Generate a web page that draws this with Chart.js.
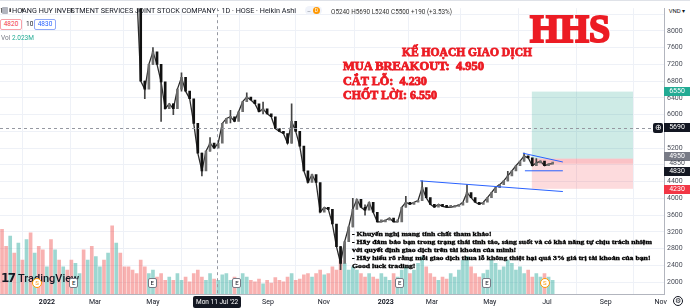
<!DOCTYPE html>
<html lang="vi">
<head>
<meta charset="utf-8">
<title>HHS - Heikin Ashi</title>
<script src="https://cdn.jsdelivr.net/npm/chart.js@4.4.1/dist/chart.umd.min.js"></script>
<style>
  html, body { margin: 0; padding: 0; background: #fff; }
  #wrap { position: relative; width: 690px; height: 308px; overflow: hidden; font-family: Roboto, "Liberation Sans", sans-serif; color: #131722; border-top: 1px solid #dfe2e8; box-sizing: border-box; }
  #c { position: absolute; left: 0; top: 0; }
  .ov { position: absolute; white-space: nowrap; line-height: 1; }
  .fit { transform-origin: 0 0; }
  .slab { font-family: "Liberation Serif", serif; font-weight: bold; }
  .plan { color: #ec1c24; font-size: 11.5px; -webkit-text-stroke: 0.8px #ec1c24; }
  .note { font-size: 7px; line-height: 8px; color: #000; -webkit-text-stroke: 0.35px #000; }
  .px { position: absolute; left: 664px; width: 26px; height: 9px; font-size: 7px; line-height: 9px; text-align: center; color: #fff; }
  .ev { position: absolute; top: 277px; width: 7px; height: 8px; border: 1px solid #787b86; border-radius: 2px; font-size: 6px; line-height: 8px; text-align: center; background: #fff; color: #131722; }
  .dv { position: absolute; top: 277px; width: 8px; height: 8px; border: 1px solid #ff9800; border-radius: 50%; font-size: 6px; line-height: 8px; text-align: center; background: #fff; color: #ff9800; }
  .box { border-radius: 2px; font-size: 6.5px; line-height: 9px; height: 9px; text-align: center; background: #fff; }
</style>
</head>
<body>
<div id="wrap">
  <canvas id="c" width="690" height="308"></canvas>

  <div class="ov" style="left:2px;top:6px;width:6px;height:7px;background:#b2b5be;border-radius:1px"></div>
  <div class="ov fit" id="title" style="left:12px;top:6px;font-size:8px;">HOANG HUY INVESTMENT SERVICES JOINT STOCK COMPANY · 1D · HOSE · Heikin Ashi</div>
  <div class="ov" style="left:305px;top:5px;width:17px;height:9px;background:#f0f3fa;border-radius:5px;font-size:6px;line-height:9px;color:#787b86;padding-left:2px;box-sizing:border-box">–<span style="display:inline-block;margin-left:2px;width:7px;height:7px;border-radius:50%;background:#ff9800;color:#fff;font-size:5px;line-height:7px;text-align:center;vertical-align:1px">D</span></div>
  <div class="ov fit" id="ohlc" style="left:331px;top:8px;font-size:6.5px;color:#333">O5240 H5690 L5240 C5500 +190 (+3.53%)</div>

  <div class="ov box" style="left:0px;top:18px;width:20px;border:1px solid #f7a1a8;color:#f23645">4820</div>
  <div class="ov" style="left:26px;top:20px;font-size:6.5px">10</div>
  <div class="ov box" style="left:34px;top:18px;width:20px;border:1px solid #8fa8f7;color:#2962ff">4830</div>
  <div class="ov" style="left:1px;top:34px;font-size:6.5px;color:#787b86">Vol <span style="color:#22ab94">2.023M</span></div>

  <div class="ov fit slab" id="hhs" style="left:530px;top:7.5px;font-size:40px;color:#ec1c24;-webkit-text-stroke:2.2px #ec1c24">HHS</div>
  <div class="ov fit slab plan" id="p0" style="left:402px;top:45.5px">KẾ HOẠCH GIAO DỊCH</div>
  <div class="ov fit slab plan" id="p1" style="left:343px;top:60.4px">MUA BREAKOUT:&nbsp; 4.950</div>
  <div class="ov fit slab plan" id="p2" style="left:343px;top:74.7px">CẮT LỖ:&nbsp; 4.230</div>
  <div class="ov fit slab plan" id="p3" style="left:343px;top:89.4px">CHỐT LỜI: 6.550</div>

  <div class="ov fit slab note" id="note" style="left:352px;top:229px">- Khuyến nghị mang tính chất tham khảo!<br>- Hãy đảm bảo bạn trong trạng thái tỉnh táo, sáng suốt và có khả năng tự chịu trách nhiệm<br>với quyết định giao dịch trên tài khoản của mình!<br>- Hãy hiểu rõ rằng mỗi giao dịch thua lỗ không thiệt hại quá 3% giá trị tài khoản của bạn!<br>Good luck trading!</div>

  <div class="ov" style="left:665px;top:4px;width:24px;height:12px;background:#fff;font-size:6px;line-height:12px;color:#131722;text-align:center">VND ▾</div>

  <div class="ov" style="left:1px;top:271px;font-family:'DejaVu Sans',sans-serif;font-weight:bold;font-size:12px;letter-spacing:-1.5px;color:#131722">17</div>
  <div class="ov" style="left:18px;top:272px;font-size:11px;font-weight:500;color:#131722">TradingView</div>

  <div class="ov" id="xlab" style="top:295px;height:12px;padding:0 3px;background:#131722;color:#fff;font-size:6.5px;line-height:12px;border-radius:2px">Mon 11 Jul '22</div>
  <div class="ov" style="left:673px;top:295px;width:10px;height:10px;border:1px solid #131722;border-radius:50%;box-sizing:border-box;font-size:7px;line-height:8px;text-align:center">⚙</div>
  <div class="ov" id="cross" style="left:653px;width:10px;height:10px;background:#131722;border-radius:2px;color:#fff;font-size:8px;line-height:10px;text-align:center">⊕</div>
</div>

<script>
// price trace, one Heikin Ashi close every 3 sessions (left part sits above the visible range)
var closes = [
  9300, 9100, 9250, 9050, 9400, 9150, 9500, 9350, 9600, 9450,
  9200, 9700, 9550, 9800, 9650, 9900, 9700, 9300, 9500, 9650,
  9400, 9800, 9550, 9900, 10100, 9800, 10200, 9950, 10100, 9800,
  9650, 9400, 9200, 9000,
  6800, 6610, 7200, 7500, 7200, 6780,
  6140, 6260, 6140, 6610, 6890, 6560, 6380, 5790, 5080, 4660,
  5130, 5320, 5200, 5320, 5790, 5910, 5950, 5840, 6070, 6310,
  6420, 6350, 6260, 6070, 6140, 6020, 5950, 5670, 5600, 5550,
  5320, 5840, 5600, 5250, 4660, 4380, 4570, 4380, 3670, 3790,
  3740, 3390, 2850, 2450, 2970, 3320, 3740, 3980, 3790, 3720,
  3910, 3670, 3440, 3440, 3480, 3530, 3440, 3440, 3790, 3910,
  3860, 3910, 3950, 4260, 4020, 3860, 3790, 3860, 3810, 3790,
  3790, 3810, 3840, 3910, 4140, 4020, 3910, 3860, 3910, 4020,
  4140, 4260, 4330, 4420, 4540, 4660, 4780, 4890, 5010, 4970,
  4780, 4850, 4890, 4780, 4820, 4830
];
// volume in millions of shares
var volumes = [
  9.5, 7, 8.5, 6, 7.5, 5, 8, 9, 6, 7,
  6.5, 4, 8, 6.5, 5, 4, 3.5, 5, 4.5, 3,
  6.5, 5, 7, 5.5, 4, 5, 6, 10, 7.5, 6,
  4, 4, 3.5, 3, 5, 4, 3, 3.5, 2.5, 3,
  2, 2.5, 2, 3, 2, 2.5, 1.8, 3, 3.5, 2.5,
  2, 3, 2.2, 2, 2.8, 3, 2, 2.5, 2, 3,
  2.5, 2, 1.8, 2.2, 1.5, 2, 1.6, 2.4, 2, 1.8,
  2.5, 3, 2, 2.2, 2.8, 3, 2.5, 3, 3.5, 2.8,
  3, 4, 3.5, 5, 4.5, 3.5, 4, 3.5, 3, 2.5,
  3, 2.5, 2.2, 3, 2.5, 2, 3, 2.5, 3.5, 4,
  3, 3.5, 4.5, 5.5, 4, 3, 2.5, 2, 2.5, 2.2,
  3, 2.5, 3.5, 5, 5.5, 4, 3, 2.5, 3, 3.5,
  5, 4.5, 3.5, 4, 5, 4.5, 3.5, 4, 3, 3.5,
  2.5, 3, 2.5, 3, 2.5, 2.023
];
// wicks: [point, low, high]
var wicks = [
  [0, 8440, 9300], [2, 8460, 9250], [5, 8470, 9150], [17, 8450, 9300],
  [35, 6380, 6800], [37, 7200, 7600], [39, 5840, 7200], [42, 6000, 6260],
  [44, 6560, 7000], [49, 4540, 5080], [51, 5130, 5450], [56, 5800, 6100],
  [60, 6350, 6520], [64, 6020, 6300], [71, 5320, 6260], [83, 2300, 2850],
  [86, 3320, 4000], [89, 3600, 3850], [99, 3790, 4050], [103, 3950, 4420],
  [114, 3910, 4330], [124, 4420, 4650], [128, 4890, 5080], [131, 4780, 4950]
];
var xTickPos = [11, 22.8, 37, 51, 65.2, 78.9, 94.1, 105.4, 119.6, 133.6, 148, 161.5];
var xTickLabels = ['2022', 'Mar', 'May', 'Jul', 'Sep', 'Nov', '2023', 'Mar', 'May', 'Jul', 'Sep', 'Nov'];
var yTicks = [2000, 2400, 2800, 3200, 3600, 4000, 4400, 4800, 5200, 5600, 6000, 6400, 6800, 7200, 7600, 8000, 8400];
var yHidden = [4800, 5600];
var trendLines = [
  [[102.5, 4420], [137.5, 4165]],
  [[127.7, 5080], [137.5, 4870]],
  [[128.2, 4660], [137.5, 4660]]
];
var entry = 4950, stopLoss = 4230, takeProfit = 6550, lastPrice = 4830;
var planStart = 129.9, planEnd = 154.7;
var crossBar = 52.7, crossPrice = 5690;
var earnings = [17.6, 36.8, 57.6, 97.5, 118.9];
var dividends = [8.6, 133.1];

var UP = '#6e6e6e', DOWN = '#111';
var bodyData = closes.map(function(c, i) { return { x: i, y: [i ? closes[i - 1] : c, c] }; });
var bodyColors = closes.map(function(c, i) { return (i && c >= closes[i - 1]) ? UP : DOWN; });
var volColors = closes.map(function(c, i) { return (i && c >= closes[i - 1]) ? 'rgba(38,166,154,0.45)' : 'rgba(239,83,80,0.45)'; });

var datasets = [
  {
    type: 'bar', data: bodyData, backgroundColor: bodyColors,
    barThickness: 2, grouped: false, minBarLength: 2, order: 1
  },
  {
    type: 'line', data: closes.map(function(c, i) { return { x: i, y: c }; }),
    borderColor: '#2b2b2b', borderWidth: 1.3, pointRadius: 0, tension: 0, order: 3
  },
  {
    type: 'bar', data: wicks.map(function(w) { return { x: w[0], y: [w[1], w[2]] }; }),
    backgroundColor: '#444', barThickness: 1, grouped: false, order: 2
  },
  {
    type: 'bar', yAxisID: 'v', data: volumes.map(function(v, i) { return { x: i, y: v }; }),
    backgroundColor: volColors, barThickness: 3, grouped: false, order: 5
  }
];
trendLines.forEach(function(t) {
  datasets.push({
    type: 'line', data: t.map(function(p) { return { x: p[0], y: p[1] }; }),
    borderColor: '#2962ff', borderWidth: 1, pointRadius: 0, order: 0
  });
});

var planPlugin = {
  id: 'plan',
  beforeDatasetsDraw: function(chart) {
    var ctx = chart.ctx, x = chart.scales.x, y = chart.scales.y;
    var x0 = x.getPixelForValue(planStart), x1 = x.getPixelForValue(planEnd);
    var yT = y.getPixelForValue(takeProfit), yE = y.getPixelForValue(entry);
    var yS = y.getPixelForValue(stopLoss), yL = y.getPixelForValue(lastPrice);
    ctx.save();
    ctx.fillStyle = 'rgba(8,153,129,0.2)';
    ctx.fillRect(x0, yT, x1 - x0, yE - yT);
    ctx.fillStyle = 'rgba(242,54,69,0.18)';
    ctx.fillRect(x0, yE, x1 - x0, yS - yE);
    ctx.fillStyle = 'rgba(242,54,69,0.15)';
    ctx.fillRect(x0, yE, x1 - x0, yL - yE);
    ctx.restore();
  },
  afterDatasetsDraw: function(chart) {
    var ctx = chart.ctx, a = chart.chartArea;
    var cx = Math.round(chart.scales.x.getPixelForValue(crossBar)) + 0.5;
    var cy = Math.round(chart.scales.y.getPixelForValue(crossPrice)) + 0.5;
    ctx.save();
    ctx.strokeStyle = '#9598a1';
    ctx.lineWidth = 1;
    ctx.setLineDash([3, 3]);
    ctx.beginPath();
    ctx.moveTo(cx, a.top); ctx.lineTo(cx, a.bottom);
    ctx.moveTo(a.left, cy); ctx.lineTo(a.right, cy);
    ctx.stroke();
    ctx.restore();
  }
};

var chart = new Chart(document.getElementById('c'), {
  type: 'bar',
  data: { datasets: datasets },
  options: {
    responsive: false,
    animation: false,
    layout: { padding: { top: 3, left: 0, right: 0, bottom: 0 } },
    plugins: { legend: { display: false }, tooltip: { enabled: false } },
    scales: {
      x: {
        type: 'linear', min: -0.5, max: 162.3, offset: false,
        grid: { color: '#eef1f7', drawTicks: false },
        border: { color: '#b2b5be' },
        afterBuildTicks: function(s) { s.ticks = xTickPos.map(function(v) { return { value: v }; }); },
        afterFit: function(s) { s.height = 15; },
        ticks: {
          autoSkip: false, maxRotation: 0, padding: 4, color: '#131722',
          font: function(c) {
            var l = xTickLabels[c.index] || '';
            return { family: 'Roboto', size: 7, weight: /^\d/.test(l) ? 'bold' : 'normal' };
          },
          callback: function(v, i) { return xTickLabels[i]; }
        }
      },
      y: {
        position: 'right', min: 1720, max: 8540,
        grid: { color: '#eef1f7', drawTicks: false },
        border: { color: '#b2b5be' },
        afterBuildTicks: function(s) { s.ticks = yTicks.map(function(v) { return { value: v }; }); },
        afterFit: function(s) { s.width = 26; },
        ticks: {
          padding: 3, color: '#4a4e59', font: { family: 'Roboto', size: 7 },
          callback: function(v) { return yHidden.indexOf(v) >= 0 ? '' : String(v); }
        }
      },
      v: { display: false, min: 0, max: 42 }
    }
  },
  plugins: [planPlugin]
});

// overlays tied to the scales
var xs = chart.scales.x, ys = chart.scales.y, wrap = document.getElementById('wrap');
function priceTag(text, value, bg, fg, nudge) {
  var d = document.createElement('div');
  d.className = 'px';
  d.textContent = text;
  d.style.background = bg;
  d.style.color = fg;
  d.style.top = (ys.getPixelForValue(value) - 4.5 + (nudge || 0)) + 'px';
  wrap.appendChild(d);
  return d;
}
priceTag('6550', takeProfit, '#22ab94', '#fff');
priceTag('5690', crossPrice, '#131722', '#fff');
priceTag('4950', entry, '#787b86', '#fff', -2.5);
priceTag('4850', 4850, 'transparent', '#4a4e59', 0.5);
priceTag('4830', lastPrice, '#131722', '#fff', 7.5);
priceTag('4230', stopLoss, '#f23645', '#fff', 1);
document.getElementById('cross').style.top = (ys.getPixelForValue(crossPrice) - 5) + 'px';

var xl = document.getElementById('xlab');
xl.style.left = (xs.getPixelForValue(crossBar) - xl.offsetWidth / 2) + 'px';

earnings.forEach(function(v) {
  var d = document.createElement('div');
  d.className = 'ev'; d.textContent = 'E';
  d.style.left = (xs.getPixelForValue(v) - 4.5) + 'px';
  wrap.appendChild(d);
});
dividends.forEach(function(v) {
  var d = document.createElement('div');
  d.className = 'dv'; d.textContent = 'S';
  d.style.left = (xs.getPixelForValue(v) - 5) + 'px';
  wrap.appendChild(d);
});

// squeeze the texts to the widths they take in the picture
function fitW(id, w) {
  var el = document.getElementById(id);
  var cur = el.getBoundingClientRect().width;
  if (cur > 0) el.style.transform = 'scaleX(' + (w / cur) + ')';
}
fitW('title', 284);
fitW('ohlc', 121);
fitW('hhs', 80);
fitW('p0', 130);
fitW('p1', 141);
fitW('p2', 84);
fitW('p3', 94);
fitW('note', 300);
</script>
</body>
</html>
